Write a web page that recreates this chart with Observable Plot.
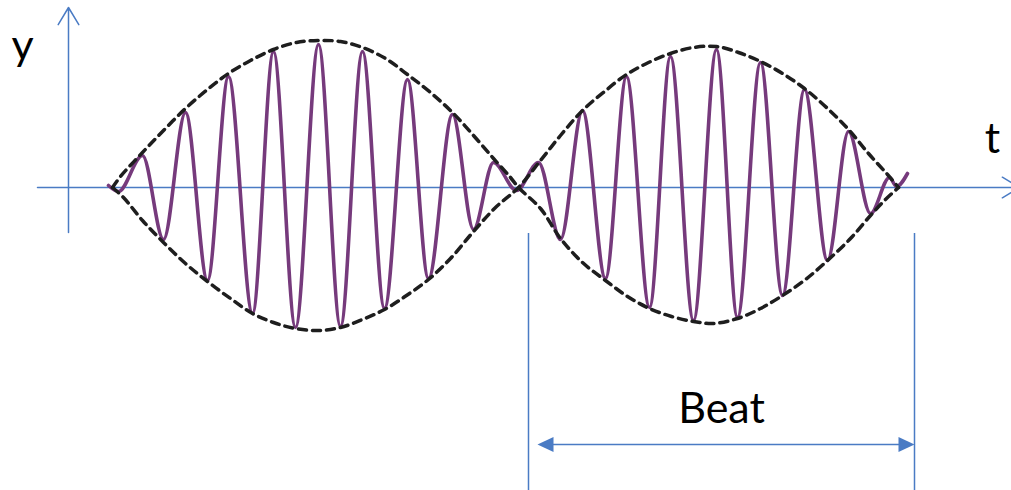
<!DOCTYPE html>
<html>
<head>
<meta charset="utf-8">
<script src="https://cdn.jsdelivr.net/npm/d3@7"></script>
<script src="https://cdn.jsdelivr.net/npm/@observablehq/plot@0.6"></script>
<style>
  html, body { margin: 0; padding: 0; background: #fff; overflow: hidden; }
  #chart svg { display: block; }
</style>
</head>
<body>
<div id="chart"></div>
<script>
// Wave extrema (t, y)
const waveT = [40, 50, 74, 95, 117, 139, 160, 184, 205, 227, 250, 272, 294, 316, 339, 360, 384, 405, 425, 448,
               470, 492, 514, 537, 558, 581, 602, 625, 648, 669, 692, 714, 736, 759, 780, 802, 821, 828, 839];
const waveY = [2, -4, 32, -52, 75, -93, 111, -126, 136, -140, 143, -139, 136, -121, 108, -91, 73, -42, 25, -3,
               25, -52, 77, -91, 111, -120, 131, -133, 138, -130, 125, -108, 98, -73, 56, -26, 10, 1, 14];

// Envelope curve 1 (upper in first beat, lower in second)
const env1T = [44, 52, 74, 95, 117, 139, 160, 182, 205, 228, 250, 272, 294, 317, 339, 362, 384, 405, 425, 442,
               450, 472, 492, 514, 537, 559, 581, 603, 625, 645, 669, 692, 714, 737, 759, 782, 802, 817, 830];
const env1Y = [0, 11, 35, 57, 79, 98, 114, 127, 138, 145, 147, 146, 140, 129, 113, 95, 75, 52, 29, 10,
               0, -21, -51, -75, -93, -109, -121, -129, -134, -136, -131, -121, -108, -92, -73, -51, -28, -12, 0];

// Envelope curve 2 (lower in first beat, upper in second)
const env2T = [44, 55, 74, 95, 117, 139, 162, 184, 205, 227, 250, 272, 294, 316, 338, 360, 382, 405, 427,
               450, 472, 492, 514, 536, 558, 580, 602, 625, 648, 670, 692, 714, 736, 758, 780, 800, 819, 830];
const env2Y = [0, -10, -33, -55, -76, -94, -111, -126, -135, -141, -143, -140, -132, -122, -108, -92, -71, -44, -20,
               0, 27, 52, 77, 96, 113, 125, 134, 140, 141, 135, 126, 114, 99, 80, 58, 34, 13, 0];

// Axes and annotation values
const yAxisRange = [-45, 180];
const tAxisRange = [-31, 951];
const beatStart = 460, beatEnd = 846;
const beatArrowStart = 469;
const beatBracketTop = -46;
const labels = ["y", "t", "Beat"];
const labelT = [-46, 924, 653];
const labelY = [128, 35, -235];

const wave = waveT.map((t, i) => ({t, y: waveY[i]}));
const env1 = env1T.map((t, i) => ({t, y: env1Y[i]}));
const env2 = env2T.map((t, i) => ({t, y: env2Y[i]}));
const labelData = labels.map((s, i) => ({s, t: labelT[i], y: labelY[i]}));

const blue = "#4a7bc4";
const purple = "#763a7c";

const chart = Plot.plot({
  width: 1011,
  height: 490,
  margin: 0,
  x: {domain: [-68, 943], axis: null},
  y: {domain: [-303, 187], axis: null},
  style: {background: "#fff", overflow: "hidden"},
  marks: [
    // axes
    Plot.arrow([{}], {x1: 0, x2: 0, y1: yAxisRange[0], y2: yAxisRange[1], stroke: blue, strokeWidth: 1.5, headLength: 20, headAngle: 62}),
    Plot.arrow([{}], {x1: tAxisRange[0], x2: tAxisRange[1], y1: 0, y2: 0, stroke: blue, strokeWidth: 1.5, headLength: 20, headAngle: 62}),
    // beat bracket
    Plot.ruleX([beatStart, beatEnd], {y1: beatBracketTop, y2: -303, stroke: blue, strokeWidth: 1.5}),
    Plot.link([{}], {x1: beatArrowStart + 10, x2: beatEnd - 10, y1: -257, y2: -257, stroke: blue, strokeWidth: 1.5}),
    Plot.vector([{t: beatEnd, r: 90}, {t: beatArrowStart, r: -90}], {x: "t", y: -257, rotate: "r", shape: "spike", length: 16, r: 7.5, anchor: "end", fill: blue, stroke: "none"}),
    // wave
    Plot.line(wave, {x: "t", y: "y", curve: "monotone-x", stroke: purple, strokeWidth: 3.6}),
    // envelopes
    Plot.line(env1, {x: "t", y: "y", curve: "catmull-rom", stroke: "#1e1e1e", strokeWidth: 3.5, strokeDasharray: "8,6"}),
    Plot.line(env2, {x: "t", y: "y", curve: "catmull-rom", stroke: "#1e1e1e", strokeWidth: 3.5, strokeDasharray: "8,6"}),
    // labels
    Plot.text(labelData, {x: "t", y: "y", text: "s", fontSize: 43, fontFamily: "Lato", fill: "#000", lineAnchor: "bottom", textAnchor: "middle"})
  ]
});
document.getElementById("chart").appendChild(chart);
</script>
</body>
</html>
